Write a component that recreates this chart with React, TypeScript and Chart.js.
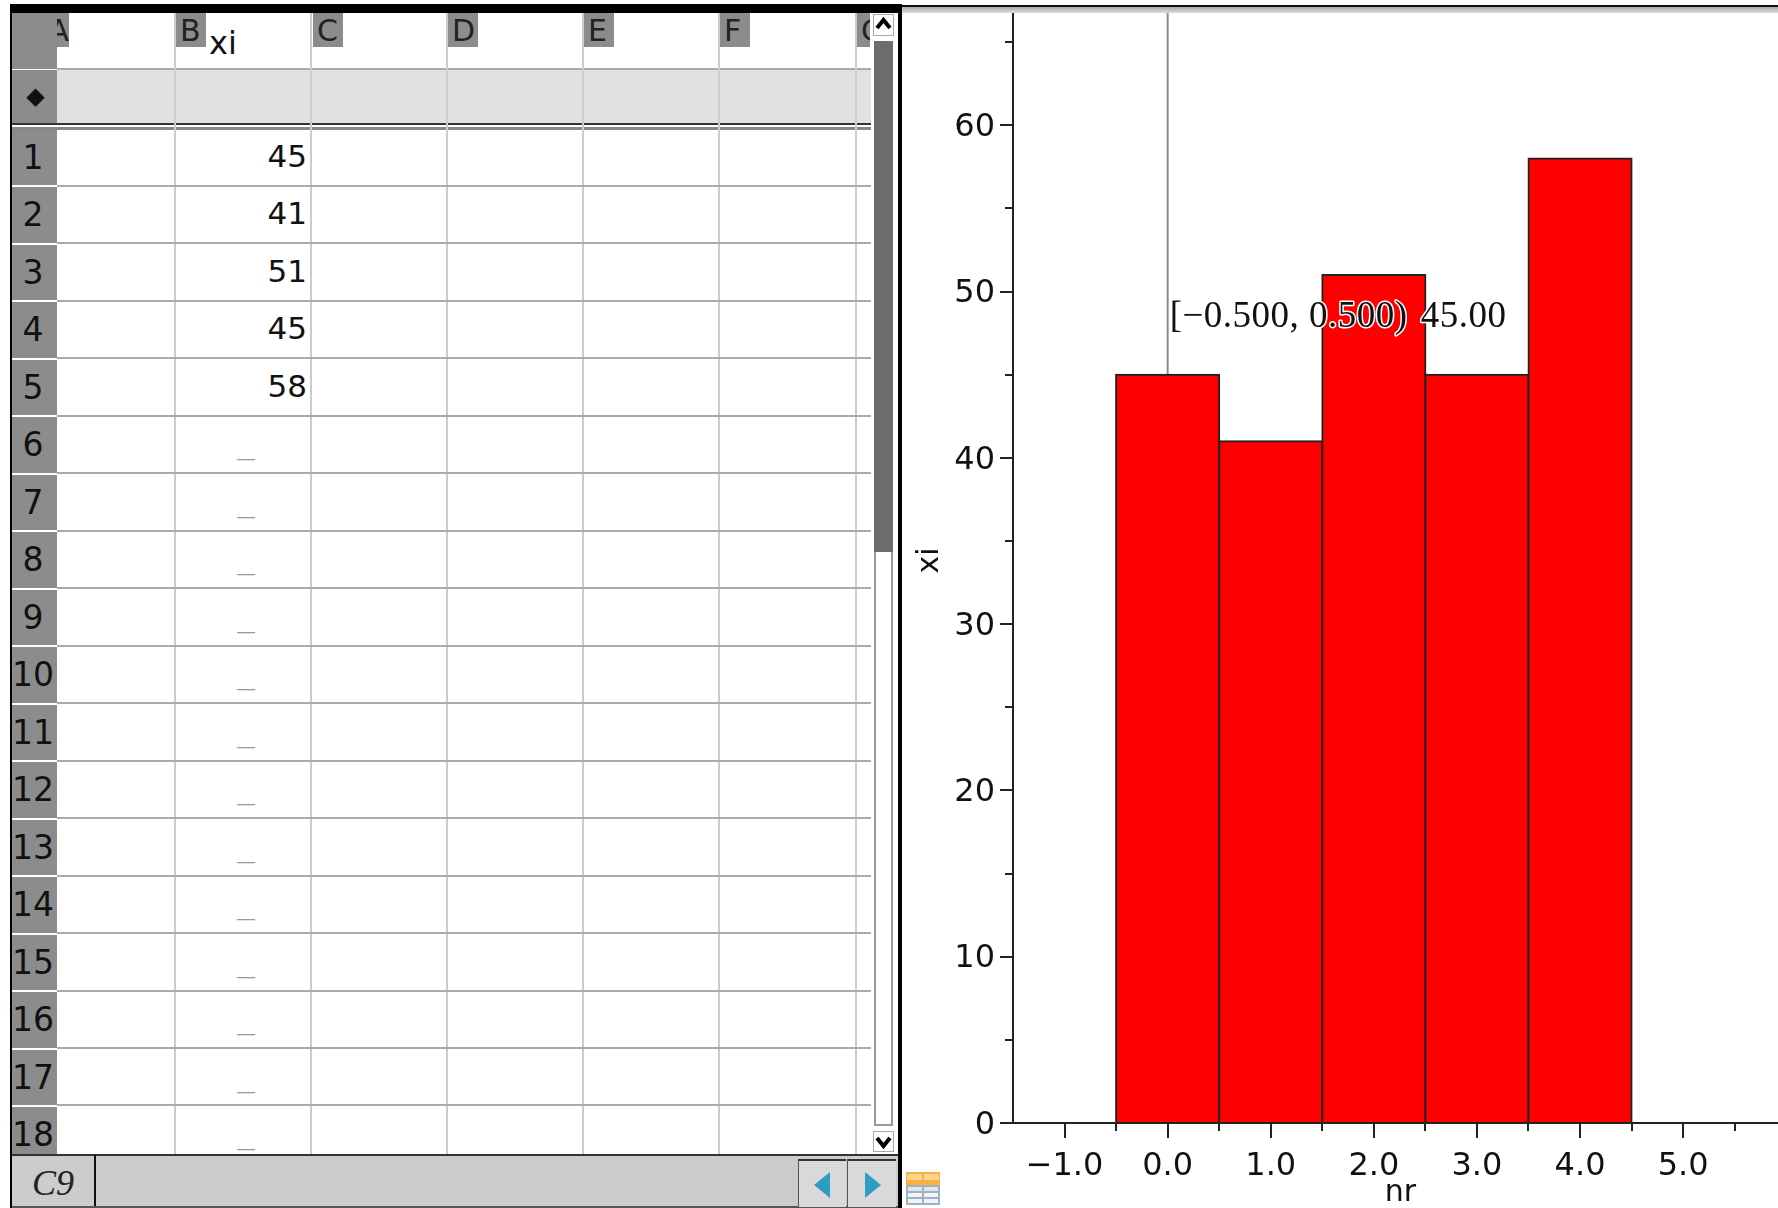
import React, { useEffect, useRef } from "react";
import { Chart, registerables } from "chart.js";

Chart.register(...registerables);

const nr = [0, 1, 2, 3, 4];
const xi = [45, 41, 51, 45, 58];
const rowLabels = ["1","2","3","4","5","6","7","8","9","10","11","12","13","14","15","16","17","18"];
const columnLetters = ["A","B","C","D","E","F","G"];
const xAxisTitle = "nr";
const yAxisTitle = "xi";
const activeCell = "C9";
const intervalLabel = "[−0.500, 0.500)";
const frequencyLabel = "45.00";

const X_MIN = -1.5;
const X_MAX = 6.017;
const X_LABEL_LIMIT = 5;
const Y_MAX = 67.65;
const SANS = "'DejaVu Sans', sans-serif";
const SERIF = "'Liberation Serif', serif";

const colLines = [174, 310, 446, 582, 718, 855];
const letterBoxes = [57, 176, 313, 448, 584, 720, 857];
const letterWidths = [12, 30, 30, 30, 30, 30, 13];
const ROW_TOP = 129;
const ROW_H = 57.47;

const tickPlugin = {
  id: "tickMarks",
  afterDatasetsDraw(chart: any) {
    const { ctx, scales } = chart;
    const x = scales.x;
    const y = scales.y;
    ctx.save();
    ctx.strokeStyle = "#222";
    ctx.lineWidth = 2;
    x.ticks.forEach((t: any) => {
      if (t.value <= X_MIN) return;
      const len = Number.isInteger(t.value) ? 15 : 8;
      const p = Math.round(x.getPixelForValue(t.value));
      ctx.beginPath();
      ctx.moveTo(p, y.bottom);
      ctx.lineTo(p, y.bottom + len);
      ctx.stroke();
    });
    y.ticks.forEach((t: any) => {
      const len = t.value % 10 === 0 ? 13 : 8;
      const p = Math.round(y.getPixelForValue(t.value));
      ctx.beginPath();
      ctx.moveTo(x.left, p);
      ctx.lineTo(x.left - len, p);
      ctx.stroke();
    });
    const baseline = y.getPixelForValue(47.86);
    const x0 = x.getPixelForValue(nr[0]);
    ctx.font = `37px ${SERIF}`;
    ctx.textBaseline = "alphabetic";
    ctx.textAlign = "left";
    ctx.lineJoin = "round";
    (ctx as any).letterSpacing = "0.5px";
    [[intervalLabel, x0 + 2], [frequencyLabel, x0 + 253]].forEach(([txt, px]: any) => {
      ctx.strokeStyle = "#fff";
      ctx.lineWidth = 3;
      ctx.strokeText(txt, px, baseline);
      ctx.fillStyle = "#111";
      ctx.fillText(txt, px, baseline);
    });
    ctx.restore();
  },
};

function Histogram() {
  const ref = useRef<HTMLCanvasElement>(null);
  useEffect(() => {
    const chart = new Chart(ref.current as HTMLCanvasElement, {
      type: "bar",
      data: {
        datasets: [
          {
            type: "line",
            data: [{ x: nr[0], y: Y_MAX }, { x: nr[0], y: xi[0] }],
            borderColor: "#8c8c8c",
            borderWidth: 2,
            pointRadius: 0,
            order: 2,
          } as any,
          {
            type: "bar",
            data: nr.map((v, i) => ({ x: v, y: xi[i] })),
            backgroundColor: "#ff0000",
            borderColor: "#222222",
            borderWidth: 2,
            borderSkipped: false,
            inflateAmount: 1,
            barPercentage: 2,
            categoryPercentage: 1,
            order: 1,
          } as any,
        ],
      },
      options: {
        responsive: false,
        animation: false,
        layout: { padding: 0 },
        plugins: { legend: { display: false }, tooltip: { enabled: false } },
        scales: {
          x: {
            type: "linear",
            offset: false,
            min: X_MIN,
            max: X_MAX,
            grid: { display: false },
            border: { display: true, color: "#222", width: 2, z: 1 },
            afterFit: (s: any) => {
              s.height = 85;
              s.paddingLeft = 0;
              s.paddingRight = 0;
            },
            title: {
              display: true,
              text: xAxisTitle,
              color: "#111",
              font: { family: SANS, size: 30, lineHeight: 1 },
              padding: 0,
            },
            ticks: {
              stepSize: 0.5,
              includeBounds: false,
              autoSkip: false,
              maxRotation: 0,
              padding: 16,
              color: "#111",
              font: { family: SANS, size: 32 },
              callback: (v: any) =>
                Number.isInteger(v) && v <= X_LABEL_LIMIT
                  ? Number(v).toFixed(1).replace("-", "−")
                  : "",
            },
          },
          y: {
            type: "linear",
            min: 0,
            max: Y_MAX,
            grid: { display: false },
            border: { display: true, color: "#222", width: 2 },
            afterFit: (s: any) => {
              s.width = 111;
              s.paddingTop = 0;
              s.paddingBottom = 0;
            },
            title: {
              display: true,
              text: yAxisTitle,
              color: "#111",
              font: { family: SANS, size: 30, lineHeight: 1.2 },
              padding: { top: 10, bottom: 0 },
            },
            ticks: {
              stepSize: 5,
              includeBounds: false,
              autoSkip: false,
              padding: 10,
              color: "#111",
              font: { family: SANS, size: 32, lineHeight: 0.15 },
              callback: (v: any) => (Number(v) % 10 === 0 ? ["", String(v)] : ""),
            },
          },
        },
      },
      plugins: [tickPlugin],
    } as any);
    return () => chart.destroy();
  }, []);
  return (
    <canvas
      ref={ref}
      width={886}
      height={1210}
      style={{ position: "absolute", left: 902, top: -2, display: "block" }}
    />
  );
}

const box = (left: number, top: number, width: number, height: number, extra: any = {}) => ({
  position: "absolute" as const,
  left,
  top,
  width,
  height,
  ...extra,
});

function Sheet() {
  const text = { fontFamily: SANS, color: "#111", lineHeight: 1 };
  return (
    <>
      {/* borders */}
      <div style={box(10, 4, 892, 9, { background: "#000" })} />
      <div style={box(10, 4, 2, 1204, { background: "#000" })} />
      <div style={box(898, 4, 4, 1204, { background: "#000" })} />
      {/* formula row */}
      <div style={box(57, 69, 814, 54, { background: "#e1e1e1" })} />
      <div style={box(57, 68, 814, 2, { background: "#aaa" })} />
      <div style={box(57, 123, 814, 2, { background: "#333" })} />
      <div style={box(57, 125, 814, 2, { background: "#fff" })} />
      <div style={box(57, 127, 814, 3, { background: "#888" })} />
      {/* grid lines */}
      {colLines.map((x) => (
        <div key={x} style={box(x, 13, 2, 1142, { background: "#ccc" })} />
      ))}
      {rowLabels.slice(0, -1).map((r, i) => (
        <div key={r} style={box(57, ROW_TOP + ROW_H * (i + 1) - 1.5, 814, 2, { background: "#aaa" })} />
      ))}
      {/* column letters */}
      {columnLetters.map((c, i) => (
        <div
          key={c}
          style={box(letterBoxes[i], 13, letterWidths[i], 34, {
            background: "#8c8c8c",
            overflow: "hidden",
          })}
        >
          <div
            style={{
              ...text,
              position: "absolute",
              top: 3,
              fontSize: 30,
              color: "#222",
              ...(i === 0 ? { right: 0 } : { left: 4 }),
            }}
          >
            {c}
          </div>
        </div>
      ))}
      <div style={{ ...text, position: "absolute", left: 209, top: 27, fontSize: 32 }}>{yAxisTitle}</div>
      {/* row header */}
      <div style={box(12, 13, 45, 56, { background: "#8c8c8c" })} />
      <div style={box(12, 70, 45, 53, { background: "#8c8c8c" })} />
      <div style={box(12, 123, 45, 2, { background: "#333" })} />
      <div style={box(12, 127, 45, 3, { background: "#888" })} />
      <div style={{ ...text, position: "absolute", left: 12, width: 47, top: 84, textAlign: "center", fontSize: 24 }}>
        ◆
      </div>
      {rowLabels.map((r, i) => {
        const top = ROW_TOP + ROW_H * i;
        const v = xi[i];
        return (
          <React.Fragment key={r}>
            <div style={box(12, top + 1, 45, Math.min(ROW_H - 2, 1155 - top), { background: "#8c8c8c", overflow: "hidden" })}>
              <div style={{ ...text, position: "absolute", left: 0, width: 42, top: 11, textAlign: "center", fontSize: 33, whiteSpace: "nowrap" }}>
                {r}
              </div>
            </div>
            {v !== undefined ? (
              <div style={{ ...text, position: "absolute", right: 1778 - 307, top: top + 12, fontSize: 31 }}>{v}</div>
            ) : (
              <div style={{ ...text, position: "absolute", left: 236, top: top + 32, fontSize: 20, color: "#999" }}>—</div>
            )}
          </React.Fragment>
        );
      })}
      {/* scrollbar */}
      <div style={box(871, 13, 27, 1142, { background: "#fff" })} />
      <div style={box(873, 14, 21, 22, { border: "1px solid #aaa", boxSizing: "border-box", background: "#fff" })}>
        <svg width="19" height="20" style={{ display: "block" }}>
          <path d="M3 13 L9.5 5 L16 13" fill="none" stroke="#000" strokeWidth="4" />
        </svg>
      </div>
      <div style={box(874, 41, 19, 511, { background: "#6c6c6c" })} />
      <div style={box(874, 552, 19, 574, { border: "2px solid #999", borderTop: "none", boxSizing: "border-box", background: "#fff" })} />
      <div style={box(873, 1131, 21, 21, { border: "1px solid #aaa", boxSizing: "border-box", background: "#fff" })}>
        <svg width="19" height="19" style={{ display: "block" }}>
          <path d="M3 6 L9.5 14 L16 6" fill="none" stroke="#000" strokeWidth="4" />
        </svg>
      </div>
      {/* bottom bar */}
      <div style={box(12, 1155, 886, 53, { background: "#cccccc" })} />
      <div style={box(12, 1154, 886, 2, { background: "#333" })} />
      <div style={box(94, 1155, 2, 53, { background: "#111" })} />
      <div style={box(12, 1206, 886, 2, { background: "#555" })} />
      <div style={{ position: "absolute", left: 12, width: 82, top: 1165, textAlign: "center", fontFamily: SERIF, fontStyle: "italic", fontSize: 36, color: "#222", lineHeight: 1 }}>
        {activeCell}
      </div>
      <div style={box(798, 1159, 48, 48, { background: "#d9d9d9", borderTop: "2px solid #333", borderLeft: "1px solid #555", boxSizing: "border-box" })} />
      <div style={box(847, 1159, 49, 48, { background: "#d9d9d9", borderTop: "2px solid #333", borderLeft: "1px solid #555", boxSizing: "border-box" })} />
      <svg style={box(798, 1159, 98, 48)} width="98" height="48">
        <path d="M16 26 L32 13 L32 39 Z" fill="#2f9cc4" />
        <path d="M67 13 L83 26 L67 39 Z" fill="#2f9cc4" />
      </svg>
      {/* page icon */}
      <svg style={box(906, 1172, 34, 33)} width="34" height="33">
        <rect x="0" y="0" width="34" height="13" fill="#f8b040" />
        <rect x="1" y="2" width="15" height="6" fill="#fbd58c" />
        <rect x="18" y="2" width="15" height="6" fill="#fbd58c" />
        <rect x="0" y="13" width="34" height="20" fill="#9db3c4" />
        <rect x="2" y="15" width="14" height="4" fill="#dfe7ec" />
        <rect x="18" y="15" width="14" height="4" fill="#dfe7ec" />
        <rect x="2" y="21" width="14" height="4" fill="#f1f4f6" />
        <rect x="18" y="21" width="14" height="4" fill="#f1f4f6" />
        <rect x="2" y="27" width="14" height="4" fill="#f1f4f6" />
        <rect x="18" y="27" width="14" height="4" fill="#f1f4f6" />
      </svg>
    </>
  );
}

export default function App() {
  return (
    <div style={{ position: "absolute", left: 0, top: 0, width: 1778, height: 1208, overflow: "hidden", background: "#fff" }}>
      <Histogram />
      <div style={box(902, 0, 876, 5, { background: "#fff" })} />
      <div style={box(902, 5, 876, 2, { background: "#111" })} />
      <div style={box(902, 7, 876, 6, { background: "linear-gradient(#aaa,#ddd)" })} />
      <Sheet />
    </div>
  );
}
